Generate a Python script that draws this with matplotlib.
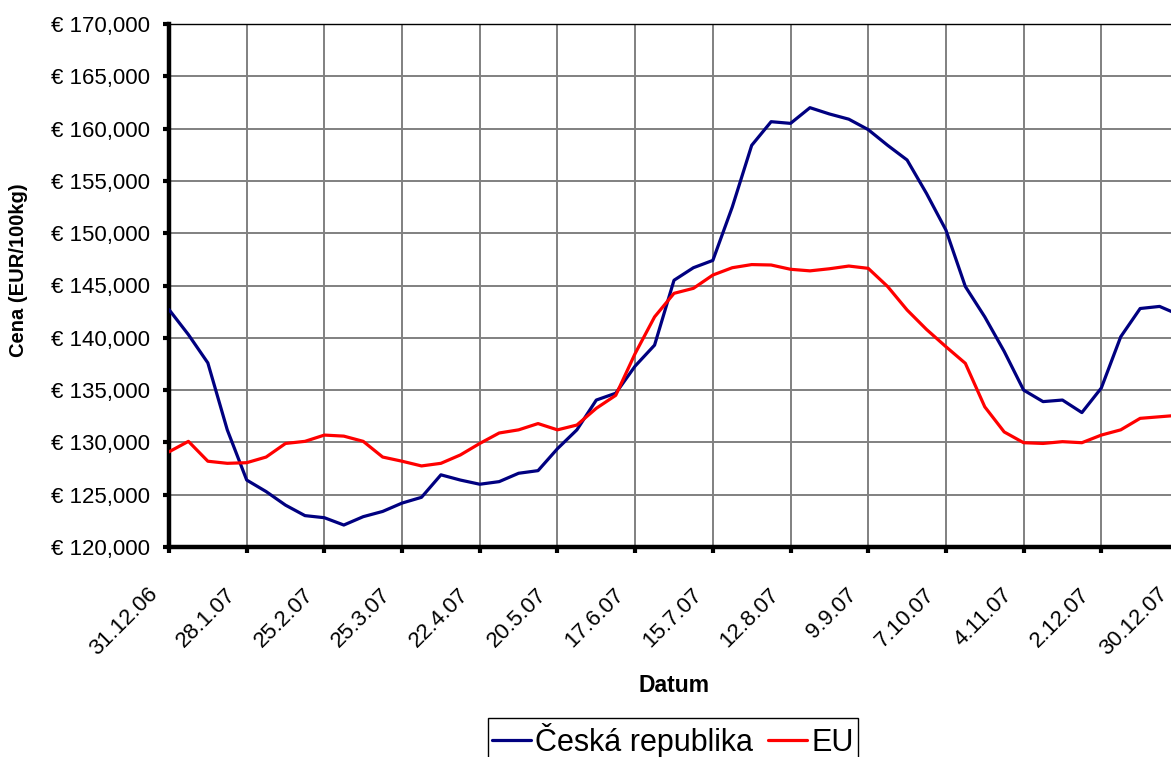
import numpy as np
import matplotlib
matplotlib.use("Agg")
import matplotlib.pyplot as plt
from matplotlib.ticker import FuncFormatter
from matplotlib.transforms import ScaledTranslation

# ---- data (weekly prices, EUR/100kg) ----
x_tick_labels = ["31.12.06", "28.1.07", "25.2.07", "25.3.07", "22.4.07", "20.5.07",
                 "17.6.07", "15.7.07", "12.8.07", "9.9.07", "7.10.07", "4.11.07",
                 "2.12.07", "30.12.07"]

cz = [142.7, 140.3, 137.6, 131.2, 126.4, 125.3, 124.0, 123.0, 122.8, 122.1,
      122.9, 123.4, 124.2, 124.75, 126.9, 126.4, 126.0, 126.25, 127.05, 127.3,
      129.4, 131.2, 134.05, 134.7, 137.3, 139.3, 145.5, 146.7, 147.4, 152.5,
      158.4, 160.66, 160.5, 162.0, 161.4, 160.9, 159.9, 158.4, 157.0, 153.8,
      150.3, 144.9, 142.0, 138.7, 135.0, 133.9, 134.05, 132.85, 135.2, 140.1,
      142.8, 143.0, 142.2]

eu = [129.1, 130.1, 128.2, 128.0, 128.06, 128.6, 129.9, 130.1, 130.7, 130.6,
      130.1, 128.6, 128.2, 127.75, 128.0, 128.8, 129.9, 130.9, 131.2, 131.8,
      131.2, 131.66, 133.26, 134.5, 138.5, 142.0, 144.25, 144.73, 146.0, 146.7,
      147.0, 146.96, 146.55, 146.4, 146.6, 146.86, 146.64, 144.9, 142.66, 140.8,
      139.15, 137.56, 133.4, 131.0, 129.97, 129.9, 130.07, 129.97, 130.7, 131.2,
      132.3, 132.45, 132.6]

y_ticks = [120, 125, 130, 135, 140, 145, 150, 155, 160, 165, 170]

series_names = ["Česká republika", "EU"]

# ---- figure ----
plt.rcParams['font.family'] = ['Liberation Sans', 'DejaVu Sans']

W, H = 1171, 757
fig = plt.figure(figsize=(W / 100, H / 100), dpi=100)
fig.patch.set_facecolor('white')
ax = fig.add_axes([169 / W, 1 - 547 / H, (1179 - 169) / W, (547 - 24) / H])

weeks = np.arange(len(cz))
ax.plot(weeks, cz, color='#000080', lw=2.3, label=series_names[0],
        solid_joinstyle='round', solid_capstyle='round', zorder=3)
ax.plot(weeks, eu, color='#FF0000', lw=2.3, label=series_names[1],
        solid_joinstyle='round', solid_capstyle='round', zorder=3)

ax.set_xlim(0, len(cz) - 1)
ax.set_ylim(y_ticks[0], y_ticks[-1])

tick_pos = np.arange(0, len(cz), 4)
ax.set_xticks(tick_pos)
ax.set_xticklabels(x_tick_labels, rotation=45, ha='right', va='top')
ax.set_yticks(y_ticks)
ax.yaxis.set_major_formatter(FuncFormatter(lambda v, p: "€ " + f"{v:.3f}".replace('.', ',')))

ax.grid(True, color='#808080', lw=1.4)
ax.set_axisbelow(True)

for s in ['left', 'bottom']:
    ax.spines[s].set_linewidth(3.2)
    ax.spines[s].set_color('black')
for s in ['top', 'right']:
    ax.spines[s].set_linewidth(1.0)
    ax.spines[s].set_color('black')

ax.tick_params(axis='both', direction='out', length=4.5, width=3.0, color='black',
               labelsize=16, labelcolor='black')
ax.tick_params(axis='x', pad=22)
ax.tick_params(axis='y', pad=9)

off = ScaledTranslation(-7 / 100, 0, fig.dpi_scale_trans)
for lbl in ax.get_xticklabels():
    lbl.set_transform(lbl.get_transform() + off)

ax.set_xlabel('Datum', fontweight='bold', fontsize=16.5)
ax.xaxis.set_label_coords(0.5, (547 - 685) / 523)
ax.xaxis.label.set_va('center')

fig.text(19 / W, 1 - 270 / H, 'Cena (EUR/100kg)', rotation=90, fontweight='bold',
         fontsize=14.5, ha='center', va='center')

leg = fig.legend(loc='upper center', bbox_to_anchor=(673 / W, 1 - 718 / H), ncol=2,
                 fontsize=22, frameon=True, fancybox=False, edgecolor='black',
                 framealpha=1, handlelength=1.25, handletextpad=0.15,
                 columnspacing=0.5, borderpad=0.15, borderaxespad=0)
leg.get_frame().set_linewidth(1.0)

fig.savefig('out.png', dpi=100, facecolor='white')
